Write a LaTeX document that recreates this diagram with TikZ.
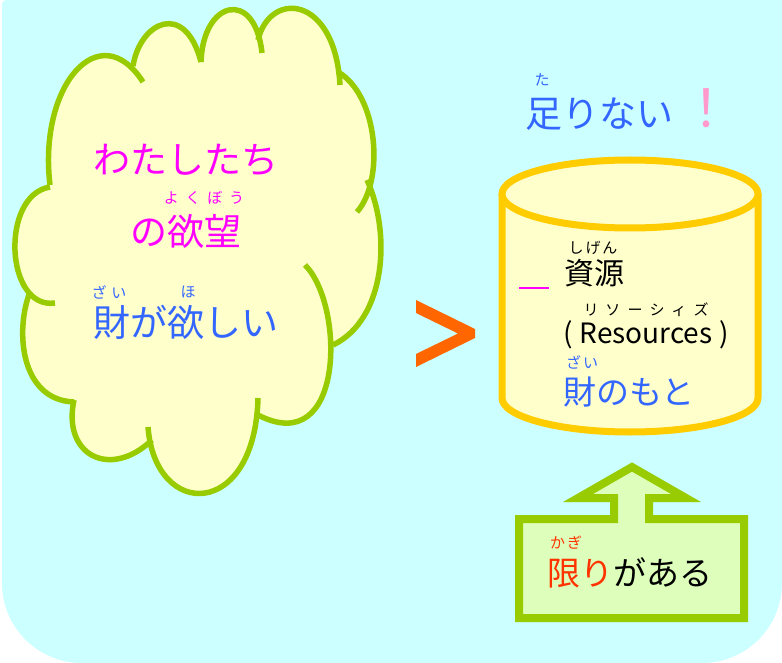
\documentclass[tikz,border=0pt]{standalone}
\usepackage{fontspec}
\newfontfamily\jp{Noto Sans CJK JP}
\definecolor{bgc}{HTML}{CCFFFF}
\definecolor{cream}{HTML}{FFFFCC}
\definecolor{leaf}{HTML}{99CC00}
\definecolor{gold}{HTML}{FFCC00}
\definecolor{pale}{HTML}{DDFFBB}
\definecolor{mag}{HTML}{FF00FF}
\definecolor{blu}{HTML}{3366FF}
\definecolor{pnk}{HTML}{FF99CC}
\definecolor{org}{HTML}{FF6600}
\definecolor{rd}{HTML}{FF3300}
\begin{document}
\begin{tikzpicture}[x=1pt,y=-1pt,
  big/.style={font=\jp\fontsize{37}{40}\selectfont, inner sep=0pt},
  mid/.style={font=\jp\fontsize{33}{36}\selectfont, inner sep=0pt},
  ruby/.style={font=\jp\fontsize{15}{16}\selectfont, inner sep=0pt},
  cloudline/.style={draw=leaf, line width=5.5pt, line cap=butt},
]
\useasboundingbox (0,0) rectangle (782,663);
% background
\fill[bgc] (2,4) -- (2,583) arc[start angle=180, end angle=90, x radius=80, y radius=80] -- (702,663)
  arc[start angle=90, end angle=0, x radius=80, y radius=80] -- (782,0) -- (6,0) arc[start angle=270, end angle=180, x radius=4, y radius=4] -- cycle;

% cloud fill
\fill[cream] (50,185) .. controls (38,85) and (100,15) .. (143,82)
  -- (133,66) .. controls (140,22) and (185,0) .. (201,62)
  .. controls (203,0) and (255,-12) .. (262,53)
  -- (258,40) .. controls (270,-10) and (335,-5) .. (340,85)
  -- (338,72) .. controls (378,95) and (385,180) .. (357,212)
  -- (367,180) .. controls (392,235) and (385,320) .. (333,345)
  -- (330.8,348) .. controls (331.1,397) and (310.2,442) .. (258,415)
  -- (258,398) .. controls (255,520) and (155,520) .. (148,427)
  -- (152,440) .. controls (110,480) and (62,455) .. (74,402)
  .. controls (20,400) and (15,330) .. (30,292)
  -- (55,303) .. controls (5,310) and (0,195) .. (50,187) -- cycle;
% cloud outline bumps
\draw[cloudline] (50,185) .. controls (38,85) and (100,15) .. (143,82);
\draw[cloudline] (133,66) .. controls (140,22) and (185,0) .. (201,62);
\draw[cloudline] (201,62) .. controls (203,0) and (255,-12) .. (262,53);
\draw[cloudline] (258,40) .. controls (270,-10) and (335,-5) .. (340,85);
\draw[cloudline] (338,72) .. controls (378,95) and (385,180) .. (357,212);
\draw[cloudline] (367,180) .. controls (392,235) and (385,320) .. (333,345);
\draw[cloudline] (305,265) .. controls (345,305) and (345,460) .. (258,415);
\draw[cloudline] (258,398) .. controls (255,520) and (155,520) .. (148,427);
\draw[cloudline] (152,440) .. controls (110,480) and (62,455) .. (74,400);
\draw[cloudline] (30,292) .. controls (15,330) and (20,400) .. (74,402);
\draw[cloudline] (50,187) .. controls (0,195) and (5,310) .. (55,303);

% cloud texts
\node[big, text=mag] (t1) at (186,160) {わたしたち};
\node[ruby, text=mag] (r1) at (204,198) {よ\hspace{6.7pt}く\hspace{6.7pt}ぼ\hspace{6.7pt}う};
\node[big, text=mag] (t2) at (186,231) {の欲望};
\node[ruby, text=blu] (r2) at (109,292) {ざ\hspace{5pt}い};
\node[ruby, text=blu] (r3) at (188,292) {ほ};
\node[big, text=blu] (t3) at (186,322) {財が欲しい};

% greater-than sign
\fill[org] (416,300) -- (475,329) -- (475,338) -- (416,367) -- (416,354) -- (458,333.5) -- (416,313) -- cycle;

% top right text
\node[ruby, text=blu] (r4) at (542,80) {た};
\node[big, text=blu] (t4) at (599,114) {足りない};
\node[font=\jp\fontsize{52}{56}\selectfont, inner sep=0pt, text=pnk] (t5) at (706,108) {！};

% cylinder
\filldraw[fill=cream, draw=gold, line width=7pt, line join=round]
  (502,194) -- (502,398) arc[start angle=180, end angle=0, x radius=128, y radius=34] -- (758,194);
\filldraw[fill=cream, draw=gold, line width=7pt] (630,194) ellipse[x radius=128, y radius=34];

\node[ruby] (r5) at (593,248) {し\hspace{2pt}げ\hspace{2pt}ん};
\node[font=\jp\fontsize{30}{32}\selectfont, inner sep=0pt] (t6) at (594,273) {資源};
\coordinate (m1) at (519,288);
\coordinate (m2) at (549,288);
\draw[mag, line width=2pt] (m1) -- (m2);
\node[ruby] (r6) at (646,310) {リ\hspace{7pt}ソ\hspace{7pt}ー\hspace{7pt}シ\hspace{7pt}ィ\hspace{7pt}ズ};
\node[font=\jp\fontsize{28}{30}\selectfont, inner sep=0pt] (t7) at (646,335) {(\hspace{7pt}Resources\hspace{7pt})};
\node[ruby, text=blu] (r7) at (582,362) {ざ\hspace{2pt}い};
\node[mid, text=blu] (t8) at (629,392) {財のもと};

% up arrow box
\filldraw[fill=pale, draw=leaf, line width=8pt, line join=miter]
  (519,519) -- (614,519) -- (614,498) -- (578,498) -- (632,467) -- (686,498) -- (649,498)
  -- (649,519) -- (744,519) -- (744,618) -- (519,618) -- cycle;
\node[ruby, text=rd] (r8) at (566,543) {か\hspace{2pt}ぎ};
\node[mid] (t9) at (630,573) {\textcolor{rd}{限り}がある};
\end{tikzpicture}
\end{document}
